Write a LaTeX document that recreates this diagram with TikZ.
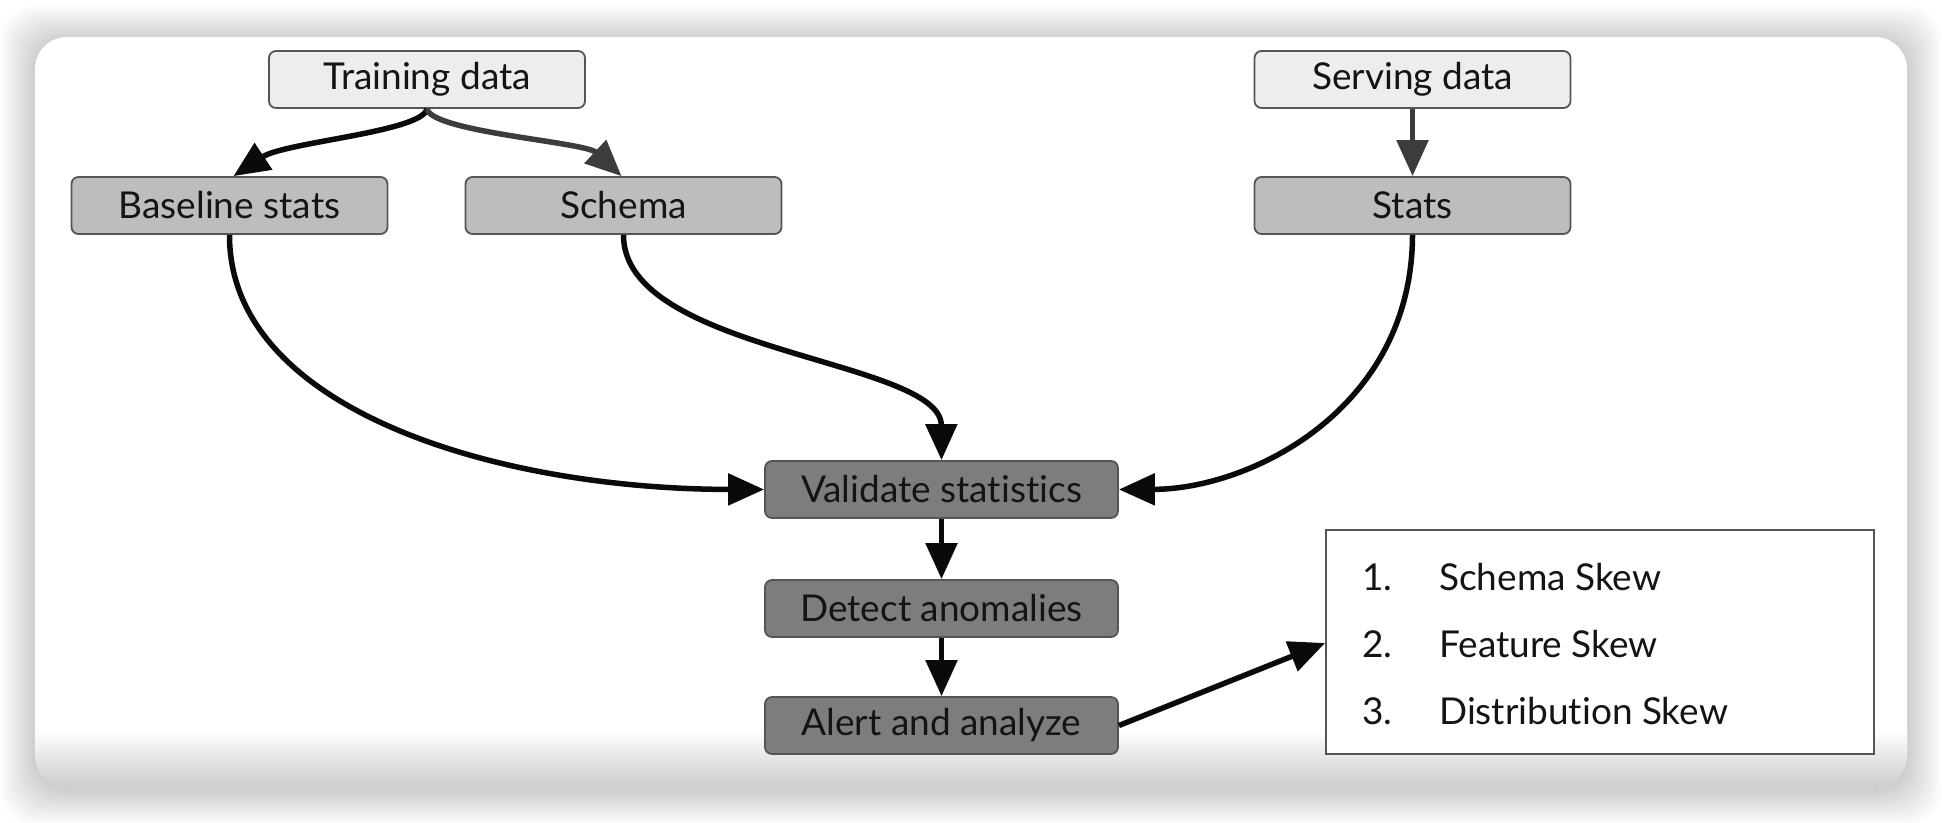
\documentclass[tikz,border=0pt]{standalone}
\usepackage{fontspec}
\setmainfont{Lato}[Ligatures=NoCommon]
\usetikzlibrary{arrows.meta}
\definecolor{lightbox}{HTML}{EDEDED}
\definecolor{midbox}{HTML}{BDBDBD}
\definecolor{darkbox}{HTML}{7D7D7D}
\definecolor{edgegray}{HTML}{555555}
\definecolor{arrowdark}{HTML}{0A0A0A}
\definecolor{arrowgray}{HTML}{3C3C3C}
\begin{document}
\begin{tikzpicture}[x=1pt,y=-1pt,
  box/.style={draw=edgegray, line width=1.8pt, rounded corners=7pt,
    minimum width=316pt, minimum height=57pt, inner sep=0pt,
    font=\fontsize{37}{44}\selectfont, text=black!92},
  lightnode/.style={box, fill=lightbox},
  midnode/.style={box, fill=midbox},
  darknode/.style={box, fill=darkbox, minimum width=353pt},
  listbox/.style={draw=edgegray, line width=1.8pt, fill=white, minimum width=548pt, minimum height=224pt, inner sep=0pt},
  listtext/.style={anchor=west, inner sep=0pt, font=\fontsize{37}{44}\selectfont, text=black!92},
  conn/.style={draw=arrowdark, line width=5.5pt, -{Triangle[length=36pt,width=31pt]}},
  conngray/.style={conn, draw=arrowgray},
]
\useasboundingbox (0,0) rectangle (1942,822);
\fill[white] (0,0) rectangle (1942,822);
% shadow of the card
\foreach \i in {1,...,24} {
  \fill[black, opacity=0.009, rounded corners=34pt]
    ({35-1.45*\i},{40-1.45*\i}) rectangle ({1907+1.45*\i},{790+1.45*\i});
}
% card
\fill[white, rounded corners=32pt] (35,37) rectangle (1907,786);
\begin{scope}
  \clip[rounded corners=32pt] (35,37) rectangle (1907,786);
  \shade[top color=white, bottom color=black!20] (35,730) rectangle (1907,787);
\end{scope}

% nodes
\node[lightnode] (train) at (427,79.5) {Training data};
\node[lightnode] (serve) at (1412.5,79.5) {Serving data};
\node[midnode] (base) at (229.5,205.5) {Baseline stats};
\node[midnode] (schema) at (623.5,205.5) {Schema};
\node[midnode] (stats) at (1412.5,205.5) {Stats};
\node[darknode] (valid) at (941.5,489.5) {Validate statistics};
\node[darknode] (detect) at (941.5,608.5) {Detect anomalies};
\node[darknode] (alert) at (941.5,725.5) {Alert and analyze};
\node[listbox] (list) at (1600,642) {};
\node[listtext] (n1) at (1362,577) {1.};
\node[listtext] (t1) at (1439,577) {Schema Skew};
\node[listtext] (n2) at (1362,644) {2.};
\node[listtext] (t2) at (1439,644) {Feature Skew};
\node[listtext] (n3) at (1362,711) {3.};
\node[listtext] (t3) at (1439,711) {Distribution Skew};

% connectors
\path[conn] (train.south) .. controls (422,132) and (285,142) .. ([xshift=4pt]base.north);
\path[conngray] (train.south) .. controls (432,132) and (585,142) .. ([xshift=-2pt]schema.north);
\path[conngray] (serve.south) -- (stats.north);
\path[conn] (base.south) .. controls (229,409) and (495,489) .. (valid.west);
\path[conn] (schema.south) .. controls (623,353) and (941,359) .. (valid.north);
\path[conn] (stats.south) .. controls (1412,409) and (1251,489) .. (valid.east);
\path[conn] (valid.south) -- (detect.north);
\path[conn] (detect.south) -- (alert.north);
\path[conn] (alert.east) -- ([yshift=-1pt]list.west);
\end{tikzpicture}
\end{document}
